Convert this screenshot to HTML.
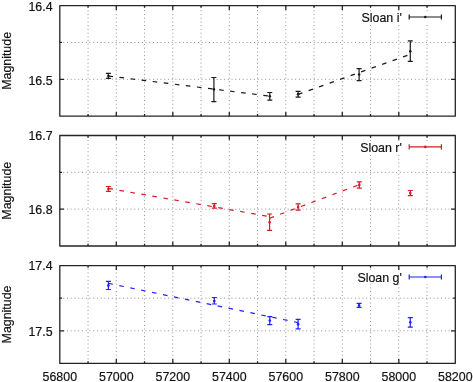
<!DOCTYPE html>
<html><head><meta charset="utf-8"><style>
html,body{margin:0;padding:0;background:#fff;}
body{width:473px;height:382px;overflow:hidden;}
svg{display:block;will-change:transform;}
text{font-family:"Liberation Sans",sans-serif;font-size:12.4px;fill:#111;stroke:#111;stroke-width:0.18px;}
</style></head><body>
<svg width="473" height="382" viewBox="0 0 473 382">
<rect x="0" y="0" width="473" height="382" fill="#fff"/>

<path d="M88.05 116.2V5.6M116.3 116.2V5.6M144.55 116.2V5.6M172.8 116.2V5.6M201.05 116.2V5.6M229.3 116.2V5.6M257.55 116.2V5.6M285.8 116.2V5.6M314.05 116.2V5.6M342.3 116.2V5.6M370.55 116.2V5.6M398.8 116.2V5.6M427.05 116.2V5.6" stroke="#929292" stroke-width="1" stroke-dasharray="1 2.74" stroke-dashoffset="-0.2" fill="none"/>
<path d="M59.8 42.47H455.3M59.8 79.33H455.3" stroke="#929292" stroke-width="1" stroke-dasharray="1 2.74" stroke-dashoffset="0.3" fill="none"/>
<rect x="356" y="11.6" width="93" height="12" fill="#fff"/>
<path d="M88.05 5.6v2.2M88.05 116.2v-2.2M116.3 5.6v4.3M116.3 116.2v-4.3M144.55 5.6v2.2M144.55 116.2v-2.2M172.8 5.6v4.3M172.8 116.2v-4.3M201.05 5.6v2.2M201.05 116.2v-2.2M229.3 5.6v4.3M229.3 116.2v-4.3M257.55 5.6v2.2M257.55 116.2v-2.2M285.8 5.6v4.3M285.8 116.2v-4.3M314.05 5.6v2.2M314.05 116.2v-2.2M342.3 5.6v4.3M342.3 116.2v-4.3M370.55 5.6v2.2M370.55 116.2v-2.2M398.8 5.6v4.3M398.8 116.2v-4.3M427.05 5.6v2.2M427.05 116.2v-2.2M59.8 42.47h2.2M455.3 42.47h-2.2M59.8 79.33h4.3M455.3 79.33h-4.3" stroke="#242424" stroke-width="1.3" fill="none"/>
<rect x="59.8" y="5.6" width="395.5" height="110.6" stroke="#242424" stroke-width="1.3" stroke-linejoin="round" fill="none"/>
<text x="52.6" y="10.5" text-anchor="end">16.4</text>
<text x="52.6" y="84.53" text-anchor="end">16.5</text>
<text transform="translate(10.5 60.9) rotate(-90)" text-anchor="middle">Magnitude</text>
<text x="401.8" y="21.9" text-anchor="end">Sloan i'</text>
<path d="M409.2 17H441.4M409.2 14.4v5.2M441.4 14.4v5.2" stroke="#1a1a1a" stroke-width="1.2" fill="none"/>
<circle cx="425.3" cy="17" r="1.3" fill="#1a1a1a"/>
<path d="M108.4 76L269.8 96.1" stroke="#1a1a1a" stroke-width="1.2" stroke-dasharray="4.6 6.55" fill="none"/>
<path d="M298.1 94.4L410.3 54.3" stroke="#1a1a1a" stroke-width="1.2" stroke-dasharray="4.6 6.55" fill="none"/>
<path d="M108.4 73.4V78.4M105.9 73.4h5M105.9 78.4h5M213.9 77.5V101.7M211.4 77.5h5M211.4 101.7h5M269.8 92.5V100.1M267.3 92.5h5M267.3 100.1h5M298.1 91.3V97.1M295.6 91.3h5M295.6 97.1h5M359.1 68.7V80.7M356.6 68.7h5M356.6 80.7h5M410.3 40.8V61.4M407.8 40.8h5M407.8 61.4h5" stroke="#1a1a1a" stroke-width="1.2" fill="none"/>
<circle cx="108.4" cy="76" r="1.3" fill="#1a1a1a"/>
<circle cx="213.9" cy="89.4" r="1.3" fill="#1a1a1a"/>
<circle cx="269.8" cy="96.2" r="1.3" fill="#1a1a1a"/>
<circle cx="298.1" cy="94.2" r="1.3" fill="#1a1a1a"/>
<circle cx="359.1" cy="74.5" r="1.3" fill="#1a1a1a"/>
<circle cx="410.3" cy="51.2" r="1.3" fill="#1a1a1a"/>
<path d="M88.05 246V135.5M116.3 246V135.5M144.55 246V135.5M172.8 246V135.5M201.05 246V135.5M229.3 246V135.5M257.55 246V135.5M285.8 246V135.5M314.05 246V135.5M342.3 246V135.5M370.55 246V135.5M398.8 246V135.5M427.05 246V135.5" stroke="#929292" stroke-width="1" stroke-dasharray="1 2.74" stroke-dashoffset="-0.2" fill="none"/>
<path d="M59.8 172.33H455.3M59.8 209.17H455.3" stroke="#929292" stroke-width="1" stroke-dasharray="1 2.74" stroke-dashoffset="0.3" fill="none"/>
<rect x="356" y="141.5" width="93" height="12" fill="#fff"/>
<path d="M88.05 135.5v2.2M88.05 246v-2.2M116.3 135.5v4.3M116.3 246v-4.3M144.55 135.5v2.2M144.55 246v-2.2M172.8 135.5v4.3M172.8 246v-4.3M201.05 135.5v2.2M201.05 246v-2.2M229.3 135.5v4.3M229.3 246v-4.3M257.55 135.5v2.2M257.55 246v-2.2M285.8 135.5v4.3M285.8 246v-4.3M314.05 135.5v2.2M314.05 246v-2.2M342.3 135.5v4.3M342.3 246v-4.3M370.55 135.5v2.2M370.55 246v-2.2M398.8 135.5v4.3M398.8 246v-4.3M427.05 135.5v2.2M427.05 246v-2.2M59.8 172.33h2.2M455.3 172.33h-2.2M59.8 209.17h4.3M455.3 209.17h-4.3" stroke="#242424" stroke-width="1.3" fill="none"/>
<rect x="59.8" y="135.5" width="395.5" height="110.5" stroke="#242424" stroke-width="1.3" stroke-linejoin="round" fill="none"/>
<text x="52.6" y="139.8" text-anchor="end">16.7</text>
<text x="52.6" y="214.37" text-anchor="end">16.8</text>
<text transform="translate(10.5 190.75) rotate(-90)" text-anchor="middle">Magnitude</text>
<text x="401.8" y="151.8" text-anchor="end">Sloan r'</text>
<path d="M409.2 146.9H441.4M409.2 144.3v5.2M441.4 144.3v5.2" stroke="#d01c24" stroke-width="1.2" fill="none"/>
<circle cx="425.3" cy="146.9" r="1.3" fill="#d01c24"/>
<path d="M108.4 188.4L269.6 216.6" stroke="#d01c24" stroke-width="1.2" stroke-dasharray="4.6 6.55" fill="none"/>
<path d="M269.6 218.2L359.3 184.7" stroke="#d01c24" stroke-width="1.2" stroke-dasharray="4.6 6.55" fill="none"/>
<path d="M108.4 186.5V191.4M105.9 186.5h5M105.9 191.4h5M214.3 203.7V208.2M211.8 203.7h5M211.8 208.2h5M269.6 214V230.3M267.1 214h5M267.1 230.3h5M298.1 203.8V210.2M295.6 203.8h5M295.6 210.2h5M359.3 181.8V188.2M356.8 181.8h5M356.8 188.2h5M410.3 190.5V195.6M407.8 190.5h5M407.8 195.6h5" stroke="#d01c24" stroke-width="1.2" fill="none"/>
<circle cx="108.4" cy="189" r="1.3" fill="#d01c24"/>
<circle cx="214.3" cy="206.1" r="1.3" fill="#d01c24"/>
<circle cx="269.6" cy="222.3" r="1.3" fill="#d01c24"/>
<circle cx="298.1" cy="207.1" r="1.3" fill="#d01c24"/>
<circle cx="359.3" cy="184.9" r="1.3" fill="#d01c24"/>
<circle cx="410.3" cy="193" r="1.3" fill="#d01c24"/>
<path d="M88.05 363.4V265.6M116.3 363.4V265.6M144.55 363.4V265.6M172.8 363.4V265.6M201.05 363.4V265.6M229.3 363.4V265.6M257.55 363.4V265.6M285.8 363.4V265.6M314.05 363.4V265.6M342.3 363.4V265.6M370.55 363.4V265.6M398.8 363.4V265.6M427.05 363.4V265.6" stroke="#929292" stroke-width="1" stroke-dasharray="1 2.74" stroke-dashoffset="-0.2" fill="none"/>
<path d="M59.8 298.2H455.3M59.8 330.8H455.3" stroke="#929292" stroke-width="1" stroke-dasharray="1 2.74" stroke-dashoffset="0.3" fill="none"/>
<rect x="356" y="271.6" width="93" height="12" fill="#fff"/>
<path d="M88.05 265.6v2.2M88.05 363.4v-2.2M116.3 265.6v4.3M116.3 363.4v-4.3M144.55 265.6v2.2M144.55 363.4v-2.2M172.8 265.6v4.3M172.8 363.4v-4.3M201.05 265.6v2.2M201.05 363.4v-2.2M229.3 265.6v4.3M229.3 363.4v-4.3M257.55 265.6v2.2M257.55 363.4v-2.2M285.8 265.6v4.3M285.8 363.4v-4.3M314.05 265.6v2.2M314.05 363.4v-2.2M342.3 265.6v4.3M342.3 363.4v-4.3M370.55 265.6v2.2M370.55 363.4v-2.2M398.8 265.6v4.3M398.8 363.4v-4.3M427.05 265.6v2.2M427.05 363.4v-2.2M59.8 298.2h2.2M455.3 298.2h-2.2M59.8 330.8h4.3M455.3 330.8h-4.3" stroke="#242424" stroke-width="1.3" fill="none"/>
<rect x="59.8" y="265.6" width="395.5" height="97.8" stroke="#242424" stroke-width="1.3" stroke-linejoin="round" fill="none"/>
<text x="52.6" y="269.9" text-anchor="end">17.4</text>
<text x="52.6" y="335.8" text-anchor="end">17.5</text>
<text transform="translate(10.5 314.5) rotate(-90)" text-anchor="middle">Magnitude</text>
<text x="401.8" y="281.9" text-anchor="end">Sloan g'</text>
<path d="M409.2 277H441.4M409.2 274.4v5.2M441.4 274.4v5.2" stroke="#2020f8" stroke-width="1.2" fill="none"/>
<circle cx="425.3" cy="277" r="1.3" fill="#2020f8"/>
<path d="M108.4 283.3L298.1 322.6" stroke="#2020f8" stroke-width="1.2" stroke-dasharray="4.6 6.55" fill="none"/>
<path d="M108.4 281.4V289.5M105.9 281.4h5M105.9 289.5h5M214.3 297.5V304M211.8 297.5h5M211.8 304h5M269.8 316.6V324.6M267.3 316.6h5M267.3 324.6h5M298.1 319.3V328.8M295.6 319.3h5M295.6 328.8h5M359.1 303.4V307.4M356.6 303.4h5M356.6 307.4h5M410.3 317.6V327.2M407.8 317.6h5M407.8 327.2h5" stroke="#2020f8" stroke-width="1.2" fill="none"/>
<circle cx="108.4" cy="285.5" r="1.3" fill="#2020f8"/>
<circle cx="214.3" cy="301.1" r="1.3" fill="#2020f8"/>
<circle cx="269.8" cy="320.6" r="1.3" fill="#2020f8"/>
<circle cx="298.1" cy="324.3" r="1.3" fill="#2020f8"/>
<circle cx="359.1" cy="305.4" r="1.3" fill="#2020f8"/>
<circle cx="410.3" cy="322.3" r="1.3" fill="#2020f8"/>
<text x="59.8" y="380.6" text-anchor="middle">56800</text>
<text x="116.3" y="380.6" text-anchor="middle">57000</text>
<text x="172.8" y="380.6" text-anchor="middle">57200</text>
<text x="229.3" y="380.6" text-anchor="middle">57400</text>
<text x="285.8" y="380.6" text-anchor="middle">57600</text>
<text x="342.3" y="380.6" text-anchor="middle">57800</text>
<text x="398.8" y="380.6" text-anchor="middle">58000</text>
<text x="455.3" y="380.6" text-anchor="middle">58200</text>
</svg>
</body></html>
